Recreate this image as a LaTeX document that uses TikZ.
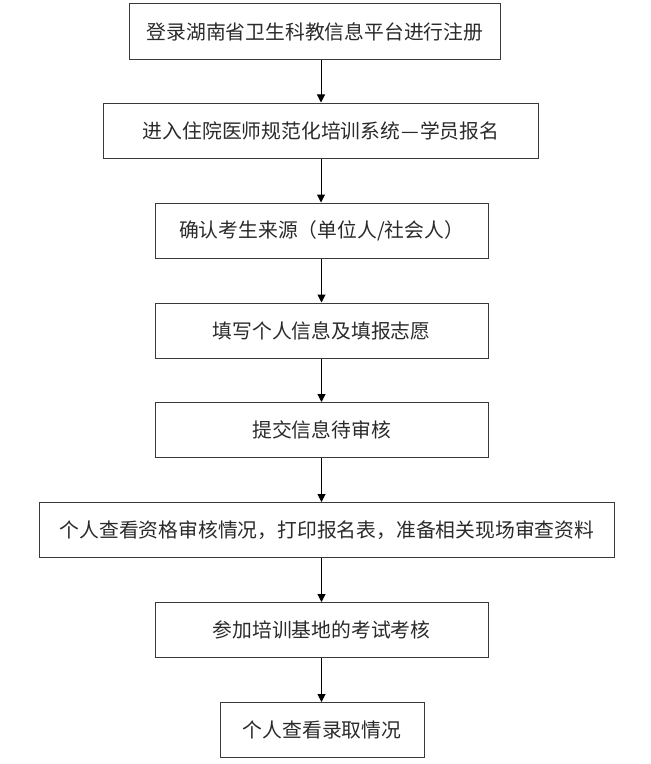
\documentclass[tikz,border=0pt]{standalone}
\usepackage{fontspec}
\newfontfamily\cjk{Noto Sans CJK SC}
\usepackage{tikz}
\usetikzlibrary{arrows.meta,positioning}
\definecolor{linex}{HTML}{3A3A3A}
\definecolor{textx}{HTML}{2A2A2A}
\tikzset{
  ar/.style={-{Triangle[length=8bp,width=8bp]},line width=1bp,black},
  box/.style={draw=linex,line width=1bp,minimum height=55bp,inner sep=0pt,
    font=\cjk\fontsize{19.8bp}{22bp}\selectfont,text=textx}
}
\begin{document}
\begin{tikzpicture}[x=1bp,y=1bp]
\useasboundingbox (0,0) rectangle (651,-764);
% flow boxes, top to bottom
\node[box,minimum width=370bp] (reg) at (315,-31.5) {登录湖南省卫生科教信息平台进行注册};
\node[box,minimum width=434bp] (sys) at (321,-130.5) {进入住院医师规范化培训系统\makebox[19.8bp]{—}学员报名};
\node[box,minimum width=333bp] (src) at (321.5,-230.5) {确认考生来源（单位人/社会人）};
\node[box,minimum width=333bp] (fill) at (321.5,-330.5) {填写个人信息及填报志愿};
\node[box,minimum width=333bp] (sub) at (321.5,-430) {提交信息待审核};
\node[box,minimum width=574bp] (chk) at (327,-530) {个人查看资格审核情况，打印报名表，准备相关现场审查资料};
\node[box,minimum width=333bp] (exam) at (321.5,-630) {参加培训基地的考试考核};
\node[box,minimum width=204bp] (res) at (322,-730) {个人查看录取情况};
% arrows
\draw[ar] (reg.south -| sys) -- (sys.north);
\draw[ar] (sys.south) -- (sys.south |- src.north);
\draw[ar] (src.south) -- (fill.north);
\draw[ar] (fill.south) -- (sub.north);
\draw[ar] (sub.south) -- (sub.south |- chk.north);
\draw[ar] (exam.north |- chk.south) -- (exam.north);
\draw[ar] (exam.south) -- (exam.south |- res.north);
\end{tikzpicture}
\end{document}
